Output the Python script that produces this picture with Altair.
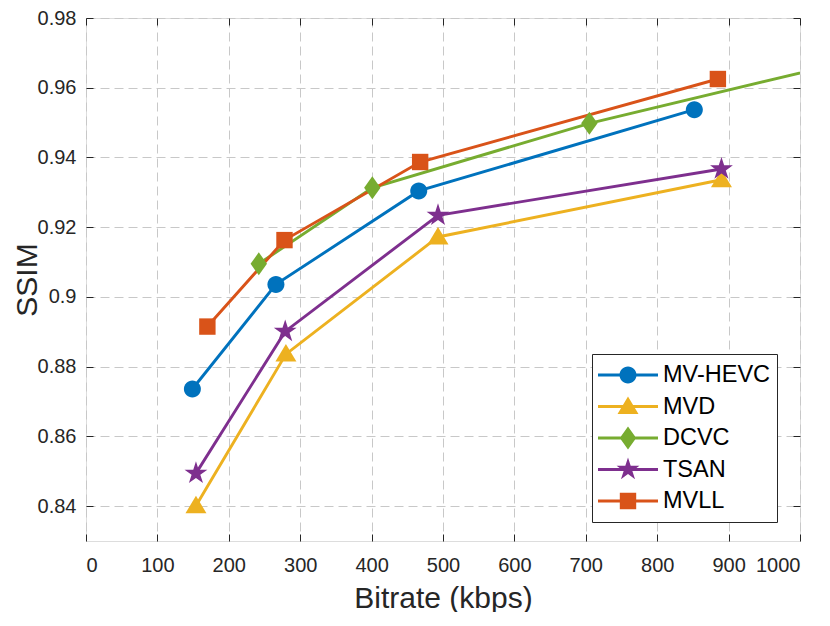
import math
import altair as alt
import pandas as pd

methods = ["MV-HEVC", "MVD", "DCVC", "TSAN", "MVLL"]
colors = ["#0072BD", "#EDB120", "#77AC30", "#7E2F8E", "#D95319"]

mvhevc_x = [149, 266, 466, 852]
mvhevc_y = [0.8736, 0.9036, 0.9304, 0.9537]
mvd_x = [154, 280, 493, 890]
mvd_y = [0.8401, 0.8836, 0.9172, 0.9336]
dcvc_x = [242, 401, 705, 1200]
dcvc_y = [0.9095, 0.9313, 0.9498, 0.9740]
tsan_x = [154, 279, 493, 890]
tsan_y = [0.8494, 0.8901, 0.9234, 0.9367]
mvll_x = [170, 278, 468, 885]
mvll_y = [0.8915, 0.9163, 0.9387, 0.9625]

x_ticks = [0, 100, 200, 300, 400, 500, 600, 700, 800, 900, 1000]
y_ticks = [0.84, 0.86, 0.88, 0.90, 0.92, 0.94, 0.96, 0.98]

series = {
    "MV-HEVC": (mvhevc_x, mvhevc_y),
    "MVD": (mvd_x, mvd_y),
    "DCVC": (dcvc_x, dcvc_y),
    "TSAN": (tsan_x, tsan_y),
    "MVLL": (mvll_x, mvll_y),
}
rows = []
for m, (xs, ys) in series.items():
    for xv, yv in zip(xs, ys):
        rows.append({"method": m, "bitrate": xv, "ssim": yv})
df = pd.DataFrame(rows)

W, H = 714, 523
FONT = "Liberation Sans"
AX = "#262626"


def fmt(v):
    return f"{v:.4f}".rstrip("0").rstrip(".")


def poly(pts, s=1.0):
    return "M" + "L".join(f"{fmt(x*s)},{fmt(y*s)}" for x, y in pts) + "Z"


def circle(r):
    return (f"M{fmt(r)},0A{fmt(r)},{fmt(r)},0,1,1,{fmt(-r)},0"
            f"A{fmt(r)},{fmt(r)},0,1,1,{fmt(r)},0Z")


star_pts = []
for i in range(10):
    ang = -math.pi / 2 + i * math.pi / 5
    rr = 1.2 if i % 2 == 0 else 1.2 * 0.382
    star_pts.append((rr * math.cos(ang), rr * math.sin(ang)))

marker_pts = {
    "MVD": [(0, -1.0), (1.05, 0.75), (-1.05, 0.75)],
    "DCVC": [(0, -1.15), (0.82, 0), (0, 1.15), (-0.82, 0)],
    "TSAN": star_pts,
    "MVLL": [(-0.82, -0.82), (0.82, -0.82), (0.82, 0.82), (-0.82, 0.82)],
}


def marker_path(m, s=1.0):
    if m == "MV-HEVC":
        return circle(0.85 * s)
    return poly(marker_pts[m], s)


plot_shapes = [marker_path(m) for m in methods]

t = 1.45 / 30.0
legend_shapes = []
for m in methods:
    line = (f"M-1,{fmt(-t)}H-0.15V{fmt(t)}H-1Z"
            f"M0.15,{fmt(-t)}H1V{fmt(t)}H0.15Z")
    legend_shapes.append(line + marker_path(m, 1.0 / 3.0))

xscale = alt.Scale(domain=[0, 1000], nice=False, zero=False)
yscale = alt.Scale(domain=[0.83, 0.98], nice=False, zero=False)
cscale = alt.Scale(domain=methods, range=colors)


def tick_axis(orient, offset, values):
    return alt.Axis(orient=orient, offset=offset, values=values, labels=False,
                    grid=False, domain=False, title=None, ticks=True, tickSize=7,
                    tickColor=AX, tickWidth=1)


base = alt.Chart(df)

lines = base.mark_line(strokeWidth=2.9, clip=True).encode(
    x=alt.X("bitrate:Q", scale=xscale,
            axis=alt.Axis(orient="bottom", values=x_ticks, format="d", ticks=False,
                          tickSize=0, domain=False, grid=True, gridColor="#c8c8c8",
                          gridDash=[9, 5], gridWidth=1,
                          labelFont=FONT, labelFontSize=20, labelColor=AX,
                          labelPadding=14, title="Bitrate (kbps)",
                          titleFont=FONT, titleFontSize=30, titleFontWeight="normal",
                          titleColor=AX, titleBaseline="alphabetic", titleY=66,
                          titleX=W / 2)),
    y=alt.Y("ssim:Q", scale=yscale,
            axis=alt.Axis(orient="left", values=y_ticks, format=".2~f", ticks=False,
                          tickSize=0, domain=False, grid=True, gridColor="#c8c8c8",
                          gridDash=[9, 5], gridWidth=1,
                          labelFont=FONT, labelFontSize=20, labelColor=AX,
                          labelPadding=10, title="SSIM",
                          titleFont=FONT, titleFontSize=30, titleFontWeight="normal",
                          titleColor=AX, titleBaseline="alphabetic", titleX=-50,
                          titleY=H / 2)),
    color=alt.Color("method:N", scale=cscale, legend=None),
)

points = base.mark_point(filled=True, size=400, opacity=1, clip=True,
                         strokeWidth=0).encode(
    x=alt.X("bitrate:Q", scale=xscale, axis=tick_axis("top", -H, x_ticks)),
    y=alt.Y("ssim:Q", scale=yscale, axis=tick_axis("right", -W, y_ticks)),
    color=alt.Color("method:N", scale=cscale, legend=None),
    shape=alt.Shape("method:N", scale=alt.Scale(domain=methods, range=plot_shapes),
                    legend=None),
)

leg = alt.Legend(
    title=None, orient="none", legendX=506, legendY=336,
    padding=6, symbolSize=3600, symbolStrokeWidth=0, clipHeight=30,
    rowPadding=1.5, labelFont=FONT, labelFontSize=23.5, labelColor="#000000",
    labelOffset=5, strokeColor=AX, fillColor="#ffffff", symbolOpacity=1,
)

dummy = base.transform_filter("datum.bitrate > 100000").mark_point(
    filled=True, size=400, opacity=1, strokeWidth=0).encode(
    x=alt.X("bitrate:Q", scale=xscale, axis=tick_axis("bottom", -H, x_ticks)),
    y=alt.Y("ssim:Q", scale=yscale, axis=tick_axis("left", -W, y_ticks)),
    color=alt.Color("method:N", scale=cscale, legend=leg),
    shape=alt.Shape("method:N", scale=alt.Scale(domain=methods, range=legend_shapes),
                    legend=leg),
)

chart = alt.layer(lines, points, dummy).resolve_scale(
    color="independent", shape="independent"
).resolve_axis(x="independent", y="independent").properties(
    width=W, height=H,
    autosize=alt.AutoSizeParams(type="none"),
    padding={"left": 78, "top": 10, "right": 22, "bottom": 71},
).configure_view(stroke=AX, strokeWidth=1).configure(background="white")

chart.save("out.html", embed_options={"renderer": "svg", "actions": False})
